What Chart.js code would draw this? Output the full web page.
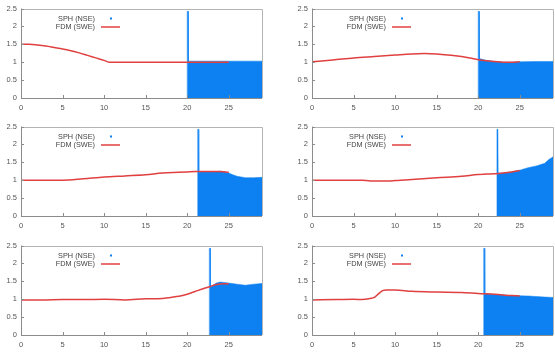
<!DOCTYPE html>
<html><head><meta charset="utf-8">
<script src="https://cdn.jsdelivr.net/npm/chart.js@4/dist/chart.umd.min.js"></script>
<style>
html,body{margin:0;padding:0;background:#fff;width:555px;height:355px;overflow:hidden;position:relative}
canvas{position:absolute}
</style></head><body>
<script>
const xTicks=[0,5,10,15,20,25];
const yTicks=[0,0.5,1,1.5,2,2.5];
const seriesNames=['SPH (NSE)','FDM (SWE)'];

const fdm1X=[0,1,2,3,4,5,6,7,8,9,10,10.6,12,15,20,25];
const fdm1Y=[1.5,1.5,1.48,1.45,1.41,1.37,1.32,1.26,1.19,1.12,1.05,1.0,1.0,1.0,1.0,1.0];
const sph1X=[20,20,20.12,20.15,25,29,29];
const sph1Y=[0,2.42,2.42,1.03,1.03,1.03,0];

const fdm2X=[0,2.5,5,7.5,10,12,13.5,15,16,17,18,19,20,21,22,23,23.5,24,25];
const fdm2Y=[1.01,1.06,1.12,1.16,1.2,1.23,1.24,1.23,1.21,1.19,1.16,1.12,1.07,1.04,1.02,1.0,1.0,1.0,1.01];
const sph2X=[20,20,20.12,20.15,21,22,23,23.5,25,27,29,29];
const sph2Y=[0,2.42,2.42,1.1,1.05,1.02,1.0,1.0,1.01,1.02,1.02,0];

const fdm3X=[0,2,4,5,7.5,10,12.5,15,17,19,20,21,22,23,24,25];
const fdm3Y=[1.0,1.0,1.0,1.0,1.04,1.09,1.12,1.15,1.2,1.22,1.23,1.24,1.24,1.24,1.24,1.22];
const sph3X=[21.25,21.25,21.37,21.4,22,23,24,24.5,25,25.5,26,27,28,29,29];
const sph3Y=[0,2.42,2.42,1.22,1.24,1.23,1.25,1.23,1.2,1.15,1.11,1.07,1.07,1.08,0];

const fdm4X=[0,2,4,6,7,8,9,10,12,15,18,20,21,22,23,24,25];
const fdm4Y=[1.0,1.0,1.0,1.0,0.98,0.98,0.98,0.99,1.02,1.07,1.11,1.16,1.17,1.18,1.2,1.23,1.27];
const sph4X=[22.25,22.25,22.37,22.4,23,24,25,26,27,28,28.5,29,29];
const sph4Y=[0,2.42,2.42,1.2,1.2,1.23,1.28,1.35,1.4,1.47,1.58,1.65,0];

const fdm5X=[0,2.5,5,7.5,10,12.5,15,17,18,19,20,21,22,22.7,23.5,24.5,25];
const fdm5Y=[0.98,0.98,0.99,0.99,1.0,0.98,1.01,1.02,1.05,1.08,1.14,1.22,1.3,1.35,1.41,1.43,1.43];
const sph5X=[22.66,22.66,22.78,22.8,23.5,24,25,26,27,28,29,29];
const sph5Y=[0,2.42,2.42,1.35,1.45,1.48,1.45,1.42,1.39,1.42,1.44,0];

const fdm6X=[0,3,5,6,7,7.5,8,8.5,9,10,12,15,18,20,22,24,25];
const fdm6Y=[0.98,0.99,1.0,0.99,1.02,1.05,1.15,1.24,1.26,1.26,1.22,1.2,1.19,1.16,1.14,1.1,1.09];
const sph6X=[20.65,20.65,20.77,20.8,22,24,26,28,29,29];
const sph6Y=[0,2.42,2.42,1.15,1.13,1.1,1.09,1.06,1.05,0];

const panels=[
 {fx:fdm1X,fy:fdm1Y,sx:sph1X,sy:sph1Y},
 {fx:fdm2X,fy:fdm2Y,sx:sph2X,sy:sph2Y},
 {fx:fdm3X,fy:fdm3Y,sx:sph3X,sy:sph3Y},
 {fx:fdm4X,fy:fdm4Y,sx:sph4X,sy:sph4Y},
 {fx:fdm5X,fy:fdm5Y,sx:sph5X,sy:sph5Y},
 {fx:fdm6X,fy:fdm6Y,sx:sph6X,sy:sph6Y}
];

const BLUE='#0d80f2', RED='#e04040';
const FONT='"Liberation Sans", Arial, sans-serif';

const framePlugin={id:'frame',afterDatasetsDraw(chart){
  const {ctx,chartArea:a}=chart;
  ctx.save();
  ctx.lineWidth=1;
  ctx.strokeStyle='#b4b4b4';
  ctx.beginPath();
  ctx.moveTo(a.left,Math.round(a.top)+0.5);ctx.lineTo(Math.round(a.right)+0.5,Math.round(a.top)+0.5);
  ctx.lineTo(Math.round(a.right)+0.5,a.bottom);
  ctx.stroke();
  ctx.strokeStyle='#8c8c8c';
  ctx.beginPath();
  ctx.moveTo(Math.round(a.left)+0.5,a.top);ctx.lineTo(Math.round(a.left)+0.5,Math.round(a.bottom)+0.5);
  ctx.lineTo(a.right,Math.round(a.bottom)+0.5);
  ctx.stroke();
  const xs=chart.scales.x, ys=chart.scales.y;
  ctx.beginPath();
  xTicks.forEach(v=>{const p=Math.round(xs.getPixelForValue(v))+0.5;ctx.moveTo(p,a.bottom);ctx.lineTo(p,a.bottom-3);});
  yTicks.forEach(v=>{const p=Math.round(ys.getPixelForValue(v))+0.5;ctx.moveTo(a.left,p);ctx.lineTo(a.left+3,p);});
  ctx.stroke();
  // legend
  ctx.font='7.3px '+FONT;
  ctx.fillStyle='#444';
  ctx.textAlign='right';ctx.textBaseline='middle';
  const ds=chart.data.datasets;
  ctx.fillText(ds[0].label,a.left+74,a.top+10);
  ctx.fillText(ds[1].label,a.left+74,a.top+18.5);
  ctx.fillStyle=ds[0].borderColor;
  ctx.fillRect(a.left+89,a.top+9,2,2);
  ctx.strokeStyle=ds[1].borderColor;ctx.lineWidth=1.5;
  ctx.beginPath();ctx.moveTo(a.left+80,a.top+18.5);ctx.lineTo(a.left+99,a.top+18.5);ctx.stroke();
  ctx.restore();
}};

const tops=[0,118,237];
panels.forEach((p,i)=>{
  const col=i%2,row=Math.floor(i/2);
  const cv=document.createElement('canvas');
  const w=col===0?265:264;
  cv.width=w;cv.height=117;
  cv.style.left=(col===0?0:291)+'px';
  cv.style.top=tops[row]+'px';
  cv.style.width=w+'px';cv.style.height='117px';
  document.body.appendChild(cv);
  new Chart(cv,{
    type:'scatter',
    data:{datasets:[
      {label:seriesNames[0],data:p.sx.map((x,k)=>({x:x,y:p.sy[k]})),showLine:true,fill:'origin',
       backgroundColor:BLUE,borderColor:BLUE,borderWidth:0.5,pointRadius:0,tension:0,order:2},
      {label:seriesNames[1],data:p.fx.map((x,k)=>({x:x,y:p.fy[k]})),showLine:true,fill:false,
       borderColor:RED,backgroundColor:RED,borderWidth:1.5,pointRadius:0,cubicInterpolationMode:'monotone',order:1}
    ]},
    options:{
      responsive:false,animation:false,devicePixelRatio:1,
      layout:{padding:{top:5,right:col===0?3:2,left:0,bottom:0}},
      plugins:{legend:{display:false},tooltip:{enabled:false}},
      scales:{
        x:{type:'linear',min:0,max:29,
          ticks:{stepSize:5,includeBounds:false,font:{size:7.5,family:FONT},color:'#555',padding:5,maxRotation:0,
            callback:v=>String(+Number(v).toFixed(1))},
          grid:{display:false,drawTicks:false},border:{display:false},
          afterFit:s=>{s.height=19;}},
        y:{type:'linear',min:0,max:2.5,
          ticks:{stepSize:0.5,font:{size:7.5,family:FONT},color:'#555',padding:4,
            callback:v=>String(+Number(v).toFixed(1))},
          grid:{display:false,drawTicks:false},border:{display:false},
          afterFit:s=>{s.width=21;}}
      }
    },
    plugins:[framePlugin]
  });
});
</script>
</body></html>
